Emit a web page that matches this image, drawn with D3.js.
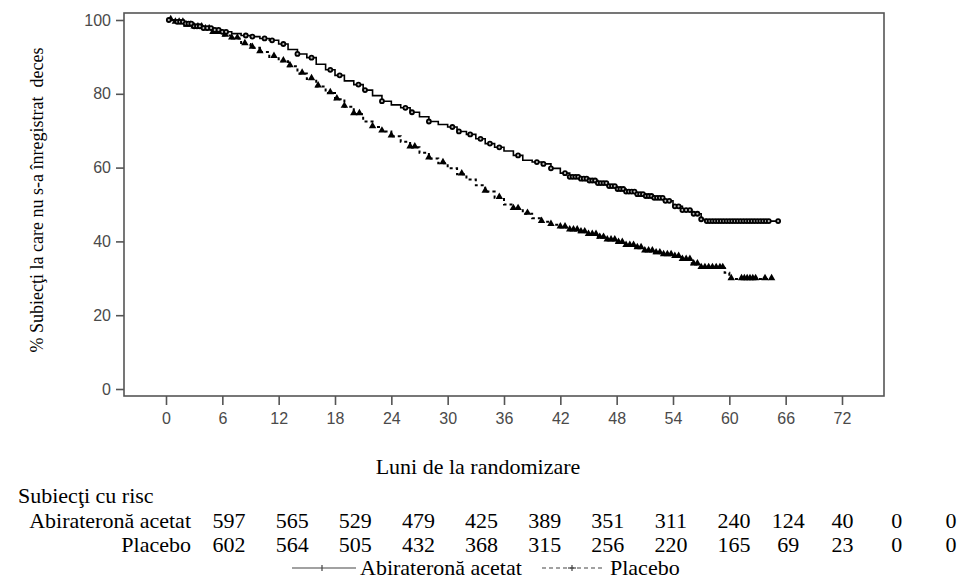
<!DOCTYPE html>
<html>
<head>
<meta charset="utf-8">
<script src="https://cdn.jsdelivr.net/npm/d3@7"></script>
<style>
  body { margin: 0; background: #fff; }
  svg { display: block; }
</style>
</head>
<body>
<div id="chart"></div>
<script>
// Kaplan-Meier steps: [month, % without death]
const abiSteps = [
  [0, 100], [1, 99.5], [2, 99], [3, 98.3], [4, 97.8], [5, 97.3], [6, 96.8], [7, 96.3],
  [8, 95.8], [9, 95.5], [10, 95], [11, 94.5], [12, 93.5], [13, 92], [14, 90.8], [15, 89.8],
  [16, 88], [17, 86.5], [18, 85], [19, 83.5], [20, 82.5], [21, 81], [22, 79.5], [23, 78],
  [24, 77], [25, 76.2], [26, 75], [27, 73.8], [28, 72.5], [29, 71.7], [30, 71], [31, 69.8],
  [32, 69], [33, 67.8], [34, 66.5], [35, 65.5], [36, 64.5], [37, 63.3], [38, 62], [39, 61.5],
  [40, 61], [41, 59.8], [42, 58.5], [43, 57.5], [44, 57], [45, 56.5], [46, 55.8], [47, 55],
  [48, 54.2], [49, 53.5], [50, 52.8], [51, 52.3], [52, 51.8], [53, 51], [54, 49.5], [55, 48.5],
  [56, 47.5], [57, 46], [57.5, 45.5], [65.2, 45.5]
];
const placeboSteps = [
  [0, 100], [1, 99.3], [2, 98.5], [3, 98], [4, 97.5], [5, 96.5], [6, 95.8], [7, 95],
  [8, 93.5], [9, 92.5], [10, 91.3], [11, 90], [12, 88.8], [13, 87.5], [14, 85.5], [15, 84],
  [16, 82], [17, 80.2], [18, 78.5], [19, 76.5], [20, 74.5], [21, 72.5], [22, 71], [23, 69.8],
  [24, 68.5], [25, 67], [26, 65.5], [27, 64], [28, 62.5], [29, 61.2], [30, 59.8], [31, 58.2],
  [32, 56.8], [33, 55.2], [34, 53.5], [35, 51.8], [36, 50], [37, 48.8], [38, 47.5], [39, 46.3],
  [40, 45.3], [41, 44.5], [42, 43.8], [43, 43], [44, 42.5], [45, 41.8], [46, 41], [47, 40.3],
  [48, 39.6], [49, 38.8], [50, 38.2], [51, 37.3], [52, 36.8], [53, 36.3], [54, 35.8], [55, 35],
  [56, 33.8], [57, 32.8], [59.5, 31.5], [60, 29.8], [64.7, 29.8]
];

// censored times (months)
const abiCensor = [
  0.3, 1.2, 1.5, 1.8, 2.1, 2.4, 2.7, 3, 3.3, 3.6, 4, 4.4, 4.8, 5.2, 5.6, 6, 6.4, 8.5, 9.2,
  10.5, 11.3, 12.5, 14, 15.5, 17.5, 18.5, 20.5, 21.2, 23, 25.5, 26.2, 28, 30.5, 31.2, 32.4,
  33.5, 34.5, 35.5, 37.5, 39.5, 40.2, 41, 42.5, 43, 43.3, 43.6, 43.9, 44.2, 44.5, 44.8, 45.1,
  45.4, 45.7, 46, 46.3, 46.6, 46.9, 47.2, 47.5, 47.8, 48.1, 48.4, 48.7, 49, 49.3, 49.6, 49.9,
  50.2, 50.5, 50.8, 51.1, 51.4, 51.7, 52, 52.3, 52.6, 52.9, 53.2, 53.6, 54.2, 54.6, 55, 55.4,
  55.8, 56.2, 56.6, 57, 57.6, 57.9, 58.2, 58.5, 58.8, 59.1, 59.4, 59.7, 60, 60.3, 60.6, 60.9,
  61.2, 61.5, 61.8, 62.1, 62.4, 62.7, 63, 63.3, 63.6, 63.9, 64.2, 65.2
];
const placeboCensor = [
  0.5, 1, 1.4, 1.8, 2.2, 2.6, 3, 3.4, 3.8, 4.2, 4.6, 5, 5.4, 5.8, 6.3, 7, 7.6, 8.4, 9.2, 10,
  11.5, 12.5, 13.2, 14.5, 15.5, 16.2, 17.5, 18.2, 19, 20, 20.6, 22, 23, 24, 26, 26.5, 28, 29.5,
  31.5, 34, 35.5, 37, 37.5, 38.5, 40, 41, 42, 42.5, 43, 43.4, 43.8, 44.2, 44.6, 45, 45.4, 45.8,
  46.2, 46.6, 47, 47.4, 47.8, 48.2, 48.6, 49, 49.4, 49.8, 50.2, 50.6, 51, 51.4, 51.8, 52.2,
  52.6, 53, 53.4, 53.8, 54.2, 54.6, 55, 55.4, 55.8, 56.2, 56.6, 57, 57.4, 57.8, 58.2, 58.6,
  59, 59.3, 60.2, 61.3, 61.6, 61.9, 62.2, 62.5, 62.8, 63.8, 64.5
];

const xTicks = [0, 6, 12, 18, 24, 30, 36, 42, 48, 54, 60, 66, 72];
const yTicks = [0, 20, 40, 60, 80, 100];

// numbers at risk
const riskMonths = [0, 6, 12, 18, 24, 30, 36, 42, 48, 54, 60, 66, 72];
const riskAbi = [597, 565, 529, 479, 425, 389, 351, 311, 240, 124, 40, 0, 0];
const riskPlacebo = [602, 564, 505, 432, 368, 315, 256, 220, 165, 69, 23, 0, 0];

const width = 967, height = 587;
const frame = { left: 124, top: 13, right: 884, bottom: 396 };
const axisGray = "#555";
const serif = "'Liberation Serif', 'Times New Roman', serif";
const sans = "'Liberation Sans', Arial, sans-serif";
const tableSize = "22px";

const svg = d3.select("#chart").append("svg")
  .attr("width", width)
  .attr("height", height);

const x = d3.scaleLinear().domain([0, 72]).range([166, 842]);
const y = d3.scaleLinear().domain([0, 100]).range([389, 20]);

// frame
svg.append("rect")
  .attr("x", frame.left)
  .attr("y", frame.top)
  .attr("width", frame.right - frame.left)
  .attr("height", frame.bottom - frame.top)
  .attr("fill", "none")
  .attr("stroke", axisGray)
  .attr("stroke-width", 1.6);

// y axis
const yAxis = svg.append("g")
  .attr("transform", `translate(${frame.left},0)`)
  .call(d3.axisLeft(y).tickValues(yTicks).tickSize(8).tickPadding(5));
yAxis.select(".domain").remove();
yAxis.selectAll("line").attr("stroke", axisGray).attr("stroke-width", 1.6);
yAxis.selectAll("text")
  .attr("fill", "#4a4a4a")
  .style("font-family", sans)
  .style("font-size", "16px");

// x axis
const xAxis = svg.append("g")
  .attr("transform", `translate(0,${frame.bottom})`)
  .call(d3.axisBottom(x).tickValues(xTicks).tickSize(9).tickPadding(8));
xAxis.select(".domain").remove();
xAxis.selectAll("line").attr("stroke", axisGray).attr("stroke-width", 1.6);
xAxis.selectAll("text")
  .attr("fill", "#4a4a4a")
  .style("font-family", sans)
  .style("font-size", "16px");

// y title
svg.append("text")
  .attr("transform", `translate(43,200) rotate(-90)`)
  .attr("text-anchor", "middle")
  .style("font-family", serif)
  .style("font-size", "18px")
  .style("white-space", "pre")
  .text("% Subiecţi la care nu s-a înregistrat  deces");

// x title
svg.append("text")
  .attr("x", 478)
  .attr("y", 474)
  .attr("text-anchor", "middle")
  .style("font-family", serif)
  .style("font-size", tableSize)
  .text("Luni de la randomizare");

// curves
const line = d3.line()
  .x(d => x(d[0]))
  .y(d => y(d[1]))
  .curve(d3.curveStepAfter);

function survivalAt(steps, t) {
  let v = steps[0][1];
  steps.forEach(s => { if (s[0] <= t) v = s[1]; });
  return v;
}

svg.append("path")
  .datum(placeboSteps)
  .attr("d", line)
  .attr("fill", "none")
  .attr("stroke", "#000")
  .attr("stroke-width", 2)
  .attr("stroke-dasharray", "3,3");

svg.append("path")
  .datum(abiSteps)
  .attr("d", line)
  .attr("fill", "none")
  .attr("stroke", "#000")
  .attr("stroke-width", 1.6);

const tri = d3.symbol().type(d3.symbolTriangle).size(24);
svg.append("g")
  .selectAll("path")
  .data(placeboCensor)
  .join("path")
  .attr("d", tri)
  .attr("transform", d => `translate(${x(d)},${y(survivalAt(placeboSteps, d)) - 1})`)
  .attr("fill", "#000");

svg.append("g")
  .selectAll("circle")
  .data(abiCensor)
  .join("circle")
  .attr("cx", d => x(d))
  .attr("cy", d => y(survivalAt(abiSteps, d)))
  .attr("r", 2)
  .attr("fill", "#bbb")
  .attr("stroke", "#000")
  .attr("stroke-width", 1.8);

// risk table
const riskX = d3.scaleLinear().domain([0, 48, 72]).range([229, 734, 951]);

svg.append("text")
  .attr("x", 18)
  .attr("y", 503)
  .style("font-family", serif)
  .style("font-size", tableSize)
  .text("Subiecţi cu risc");

const rows = [
  { label: "Abirateronă acetat", values: riskAbi, y: 528 },
  { label: "Placebo", values: riskPlacebo, y: 552 }
];

rows.forEach(row => {
  svg.append("text")
    .attr("x", 191)
    .attr("y", row.y)
    .attr("text-anchor", "end")
    .style("font-family", serif)
    .style("font-size", tableSize)
    .text(row.label);

  svg.append("g")
    .selectAll("text")
    .data(row.values)
    .join("text")
    .attr("x", (d, i) => riskX(riskMonths[i]))
    .attr("y", row.y)
    .attr("text-anchor", "middle")
    .style("font-family", serif)
    .style("font-size", tableSize)
    .text(d => d);
});

// legend
const legendY = 568;
const legend = svg.append("g");
legend.append("line")
  .attr("x1", 292).attr("x2", 356)
  .attr("y1", legendY).attr("y2", legendY)
  .attr("stroke", "#444").attr("stroke-width", 1.2);
legend.append("line")
  .attr("x1", 322).attr("x2", 322)
  .attr("y1", legendY - 3).attr("y2", legendY + 3)
  .attr("stroke", "#444").attr("stroke-width", 1.2);
legend.append("text")
  .attr("x", 360).attr("y", 575)
  .style("font-family", serif)
  .style("font-size", tableSize)
  .text("Abirateronă acetat");

legend.append("line")
  .attr("x1", 542).attr("x2", 602)
  .attr("y1", legendY).attr("y2", legendY)
  .attr("stroke", "#444").attr("stroke-width", 1.2)
  .attr("stroke-dasharray", "4,3");
legend.append("line")
  .attr("x1", 572).attr("x2", 572)
  .attr("y1", legendY - 3).attr("y2", legendY + 3)
  .attr("stroke", "#444").attr("stroke-width", 1.2);
legend.append("line")
  .attr("x1", 568).attr("x2", 576)
  .attr("y1", legendY).attr("y2", legendY)
  .attr("stroke", "#444").attr("stroke-width", 1.2);
legend.append("text")
  .attr("x", 610).attr("y", 575)
  .style("font-family", serif)
  .style("font-size", tableSize)
  .text("Placebo");
</script>
</body>
</html>
